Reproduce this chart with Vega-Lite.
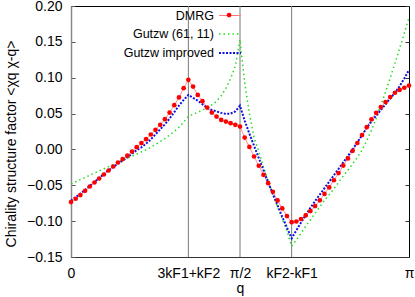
{
  "$schema": "https://vega.github.io/schema/vega-lite/v6.json",
  "width": 338,
  "height": 251,
  "autosize": {"type": "none"},
  "padding": {"left": 71, "top": 6, "right": 6, "bottom": 40},
  "config": {
    "view": {"stroke": "#000000", "strokeWidth": 1},
    "font": "Liberation Sans",
    "axis": {"grid": false, "labelColor": "#000", "titleColor": "#000", "titleFontWeight": "normal", "labelFont": "Liberation Sans", "titleFont": "Liberation Sans"}
  },
  "data": {
    "values": [
      {"q": 0, "d": -0.0734, "g": -0.048, "b": -0.0715},
      {"q": 0.01389, "d": -0.0688, "g": -0.045, "b": -0.0665},
      {"q": 0.02778, "d": -0.0637, "g": -0.042, "b": -0.0615},
      {"q": 0.04167, "d": -0.0577, "g": -0.039, "b": -0.0565},
      {"q": 0.05556, "d": -0.0517, "g": -0.036, "b": -0.051},
      {"q": 0.06944, "d": -0.0461, "g": -0.033, "b": -0.0455},
      {"q": 0.08333, "d": -0.0405, "g": -0.030, "b": -0.040},
      {"q": 0.09722, "d": -0.0350, "g": -0.027, "b": -0.0345},
      {"q": 0.11111, "d": -0.0294, "g": -0.024, "b": -0.029},
      {"q": 0.125, "d": -0.0238, "g": -0.021, "b": -0.0245},
      {"q": 0.13889, "d": -0.0182, "g": -0.018, "b": -0.020},
      {"q": 0.15278, "d": -0.0135, "g": -0.015, "b": -0.0155},
      {"q": 0.16667, "d": -0.0087, "g": -0.0125, "b": -0.011},
      {"q": 0.18056, "d": -0.0029, "g": -0.0095, "b": -0.006},
      {"q": 0.19444, "d": 0.0032, "g": -0.0065, "b": -0.001},
      {"q": 0.20833, "d": 0.0088, "g": -0.0035, "b": 0.003},
      {"q": 0.22222, "d": 0.0143, "g": -0.0005, "b": 0.008},
      {"q": 0.23611, "d": 0.0208, "g": 0.003, "b": 0.014},
      {"q": 0.25, "d": 0.0273, "g": 0.007, "b": 0.021},
      {"q": 0.26389, "d": 0.0343, "g": 0.011, "b": 0.028},
      {"q": 0.27778, "d": 0.0422, "g": 0.015, "b": 0.035},
      {"q": 0.29167, "d": 0.0514, "g": 0.020, "b": 0.043},
      {"q": 0.30556, "d": 0.0617, "g": 0.025, "b": 0.052},
      {"q": 0.31944, "d": 0.0725, "g": 0.031, "b": 0.061},
      {"q": 0.33333, "d": 0.0854, "g": 0.038, "b": 0.069},
      {"q": 0.34722, "d": 0.0970, "g": 0.046, "b": 0.076},
      {"q": 0.36111, "d": 0.0876, "g": 0.049, "b": 0.072},
      {"q": 0.375, "d": 0.0760, "g": 0.052, "b": 0.068},
      {"q": 0.38889, "d": 0.0673, "g": 0.055, "b": 0.063},
      {"q": 0.40278, "d": 0.0584, "g": 0.058, "b": 0.058},
      {"q": 0.41667, "d": 0.0514, "g": 0.062, "b": 0.055},
      {"q": 0.43056, "d": 0.0458, "g": 0.067, "b": 0.053},
      {"q": 0.44444, "d": 0.0412, "g": 0.075, "b": 0.051},
      {"q": 0.45833, "d": 0.0389, "g": 0.085, "b": 0.0495},
      {"q": 0.47222, "d": 0.0366, "g": 0.099, "b": 0.050},
      {"q": 0.48611, "d": 0.0343, "g": 0.116, "b": 0.053},
      {"q": 0.5, "d": 0.0319, "g": 0.153, "b": 0.061},
      {"q": 0.51389, "d": 0.0165, "g": 0.093, "b": 0.040},
      {"q": 0.52778, "d": 0.0035, "g": 0.050, "b": 0.022},
      {"q": 0.54167, "d": -0.0099, "g": 0.016, "b": 0.005},
      {"q": 0.55556, "d": -0.0228, "g": -0.003, "b": -0.012},
      {"q": 0.56944, "d": -0.0354, "g": -0.024, "b": -0.029},
      {"q": 0.58333, "d": -0.0470, "g": -0.044, "b": -0.046},
      {"q": 0.59722, "d": -0.0590, "g": -0.063, "b": -0.062},
      {"q": 0.61111, "d": -0.0711, "g": -0.080, "b": -0.078},
      {"q": 0.625, "d": -0.0823, "g": -0.097, "b": -0.094},
      {"q": 0.63889, "d": -0.0930, "g": -0.114, "b": -0.109},
      {"q": 0.65278, "d": -0.1015, "g": -0.135, "b": -0.124},
      {"q": 0.66667, "d": -0.1005, "g": -0.126, "b": -0.113},
      {"q": 0.68056, "d": -0.0970, "g": -0.117, "b": -0.102},
      {"q": 0.69444, "d": -0.0920, "g": -0.107, "b": -0.0915},
      {"q": 0.70833, "d": -0.0860, "g": -0.098, "b": -0.0815},
      {"q": 0.72222, "d": -0.0790, "g": -0.089, "b": -0.072},
      {"q": 0.73611, "d": -0.0710, "g": -0.080, "b": -0.063},
      {"q": 0.75, "d": -0.0620, "g": -0.071, "b": -0.054},
      {"q": 0.76389, "d": -0.0530, "g": -0.063, "b": -0.045},
      {"q": 0.77778, "d": -0.0430, "g": -0.055, "b": -0.036},
      {"q": 0.79167, "d": -0.0330, "g": -0.046, "b": -0.027},
      {"q": 0.80556, "d": -0.0225, "g": -0.037, "b": -0.018},
      {"q": 0.81944, "d": -0.0125, "g": -0.029, "b": -0.009},
      {"q": 0.83333, "d": -0.0020, "g": -0.020, "b": 0.000},
      {"q": 0.84722, "d": 0.0090, "g": -0.011, "b": 0.010},
      {"q": 0.86111, "d": 0.0200, "g": -0.001, "b": 0.020},
      {"q": 0.875, "d": 0.0310, "g": 0.012, "b": 0.030},
      {"q": 0.88889, "d": 0.0420, "g": 0.027, "b": 0.039},
      {"q": 0.90278, "d": 0.0510, "g": 0.043, "b": 0.047},
      {"q": 0.91667, "d": 0.0590, "g": 0.061, "b": 0.055},
      {"q": 0.93056, "d": 0.0660, "g": 0.080, "b": 0.063},
      {"q": 0.94444, "d": 0.0730, "g": 0.100, "b": 0.071},
      {"q": 0.95833, "d": 0.0790, "g": 0.120, "b": 0.079},
      {"q": 0.97222, "d": 0.0830, "g": 0.141, "b": 0.088},
      {"q": 0.98611, "d": 0.0860, "g": 0.162, "b": 0.099},
      {"q": 1, "d": 0.0890, "g": 0.184, "b": 0.111}
    ]
  },
  "resolve": {"axis": {"y": "independent"}},
  "layer": [
    {
      "data": {"values": [{"q": 0.34722}, {"q": 0.5}, {"q": 0.65278}]},
      "mark": {"type": "rule", "color": "#7a7a7a", "strokeWidth": 1},
      "encoding": {
        "x": {
          "field": "q", "type": "quantitative",
          "scale": {"domain": [0, 1], "nice": false, "zero": false},
          "axis": {
            "values": [0, 0.34722, 0.5, 0.65278, 1],
            "labelExpr": "datum.value < 0.1 ? '0' : datum.value < 0.4 ? '3kF1+kF2' : datum.value < 0.55 ? 'π/2' : datum.value < 0.9 ? 'kF2-kF1' : 'π'",
            "ticks": false,
            "domainColor": "#333333",
            "labelFontSize": 14,
            "labelPadding": 9,
            "labelFlush": false,
            "title": "q",
            "titleFontSize": 14,
            "titlePadding": 1
          }
        }
      }
    },
    {
      "transform": [{"fold": ["d", "g", "b"], "as": ["s", "v"]}],
      "mark": {"type": "line", "interpolate": "linear"},
      "encoding": {
        "x": {"field": "q", "type": "quantitative"},
        "y": {
          "field": "v", "type": "quantitative",
          "scale": {"domain": [-0.15, 0.2], "nice": false, "zero": false},
          "axis": {
            "orient": "left",
            "values": [-0.15, -0.1, -0.05, 0, 0.05, 0.1, 0.15, 0.2],
            "format": ".2f",
            "tickSize": -4,
            "tickColor": "#555",
            "labelPadding": 13,
            "labelFontSize": 14,
            "domainColor": "#888888",
            "domainWidth": 1.5,
            "title": "Chirality structure factor  <χq χ-q>",
            "titleFontSize": 14,
            "titleX": -53,
            "titleY": 137.5
          }
        },
        "stroke": {
          "field": "s", "type": "nominal",
          "scale": {"domain": ["d", "g", "b"], "range": ["#ff7a7a", "#22dd22", "#1010e0"]},
          "legend": {
            "orient": "none",
            "legendX": 147,
            "legendY": -2,
            "title": null,
            "padding": 0,
            "symbolType": "stroke",
            "symbolSize": 484,
            "symbolStrokeWidth": 2,
            "labelAlign": "right",
            "labelOffset": -28,
            "labelFontSize": 12.5,
            "labelColor": "#000",
            "rowPadding": -8,
            "labelExpr": "datum.label == 'd' ? 'DMRG' : datum.label == 'g' ? 'Gutzw (61, 11)' : 'Gutzw improved'"
          }
        },
        "strokeDash": {
          "field": "s", "type": "nominal",
          "scale": {"domain": ["d", "g", "b"], "range": [[1, 0], [1.5, 3], [2, 1.5]]},
          "legend": null
        },
        "strokeWidth": {
          "field": "s", "type": "nominal",
          "scale": {"domain": ["d", "g", "b"], "range": [1, 2, 2]},
          "legend": null
        }
      }
    },
    {
      "mark": {"type": "circle", "size": 22, "opacity": 1},
      "encoding": {
        "x": {"field": "q", "type": "quantitative"},
        "y": {
          "field": "d", "type": "quantitative",
          "axis": {
            "orient": "right",
            "values": [-0.15, -0.1, -0.05, 0, 0.05, 0.1, 0.15, 0.2],
            "labels": false,
            "tickSize": -4,
            "tickColor": "#333",
            "domain": false,
            "title": null
          }
        },
        "fill": {
          "datum": "d", "type": "nominal",
          "scale": {"domain": ["d"], "range": ["#ff0000"]},
          "legend": {
            "orient": "none",
            "legendX": 155.6,
            "legendY": 6.6,
            "title": null,
            "padding": 0,
            "symbolType": "circle",
            "symbolSize": 22,
            "symbolStrokeWidth": 0,
            "symbolOpacity": 1,
            "labelExpr": "''",
            "labelFontSize": 1
          }
        }
      }
    }
  ]
}
